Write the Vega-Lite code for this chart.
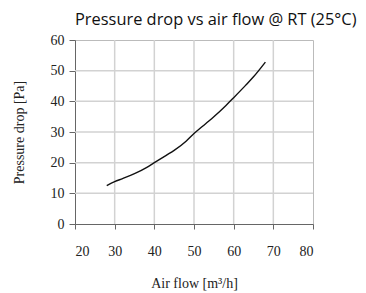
{
  "$schema": "https://vega.github.io/schema/vega-lite/v6.json",
  "autosize": "none",
  "width": 238,
  "height": 184,
  "padding": {"left": 75, "top": 40, "right": 53, "bottom": 69},
  "background": "white",
  "title": {
    "text": "Pressure drop vs air flow @ RT (25°C)",
    "anchor": "start",
    "frame": "group",
    "font": "Open Sans",
    "fontSize": 16.4,
    "fontWeight": "normal",
    "color": "#111",
    "offset": 5
  },
  "config": {
    "view": {"stroke": "#bbbbbb", "strokeWidth": 1},
    "axis": {
      "labelFont": "Liberation Serif",
      "titleFont": "Liberation Serif",
      "labelFontSize": 14,
      "titleFontSize": 14,
      "titleFontWeight": "normal",
      "labelColor": "#222",
      "titleColor": "#222",
      "domainColor": "#666",
      "tickColor": "#666",
      "grid": false
    }
  },
  "datasets": {
    "curve": [
      {"flow": 28, "dp": 12.5},
      {"flow": 30, "dp": 13.8},
      {"flow": 32, "dp": 14.8},
      {"flow": 35, "dp": 16.4},
      {"flow": 38, "dp": 18.4},
      {"flow": 40, "dp": 20.0},
      {"flow": 43, "dp": 22.4},
      {"flow": 45, "dp": 24.0},
      {"flow": 48, "dp": 27.0},
      {"flow": 50, "dp": 29.5},
      {"flow": 53, "dp": 32.8},
      {"flow": 55, "dp": 35.0},
      {"flow": 58, "dp": 38.6},
      {"flow": 60, "dp": 41.2},
      {"flow": 63, "dp": 45.2},
      {"flow": 65, "dp": 48.0},
      {"flow": 68, "dp": 52.8}
    ],
    "xgrid": [{"flow": 30}, {"flow": 40}, {"flow": 50}, {"flow": 60}, {"flow": 70}],
    "ygrid": [{"dp": 10}, {"dp": 20}, {"dp": 30}, {"dp": 40}, {"dp": 50}]
  },
  "layer": [
    {
      "data": {"name": "xgrid"},
      "mark": {"type": "rule", "color": "#d2d2d2", "strokeWidth": 1.5},
      "encoding": {
        "x": {
          "field": "flow", "type": "quantitative",
          "scale": {"domain": [20, 80], "nice": false},
          "axis": {"values": [20, 30, 40, 50, 60, 70, 80], "title": "Air flow [m³/h]", "tickSize": 5, "labelPadding": 15, "titlePadding": 18}
        }
      }
    },
    {
      "data": {"name": "ygrid"},
      "mark": {"type": "rule", "color": "#d2d2d2", "strokeWidth": 1.5},
      "encoding": {
        "y": {
          "field": "dp", "type": "quantitative",
          "scale": {"domain": [0, 60], "nice": false},
          "axis": {"values": [0, 10, 20, 30, 40, 50, 60], "title": "Pressure drop [Pa]", "tickSize": 6, "labelPadding": 5, "titlePadding": 24}
        }
      }
    },
    {
      "data": {"name": "curve"},
      "mark": {"type": "line", "color": "#111", "strokeWidth": 1.4, "interpolate": "monotone"},
      "encoding": {
        "x": {
          "field": "flow", "type": "quantitative",
          "scale": {"domain": [20, 80], "nice": false},
          "axis": {"values": [20, 30, 40, 50, 60, 70, 80], "title": "Air flow [m³/h]", "tickSize": 5, "labelPadding": 15, "titlePadding": 18}
        },
        "y": {
          "field": "dp", "type": "quantitative",
          "scale": {"domain": [0, 60], "nice": false},
          "axis": {"values": [0, 10, 20, 30, 40, 50, 60], "title": "Pressure drop [Pa]", "tickSize": 6, "labelPadding": 5, "titlePadding": 24}
        }
      }
    }
  ]
}
